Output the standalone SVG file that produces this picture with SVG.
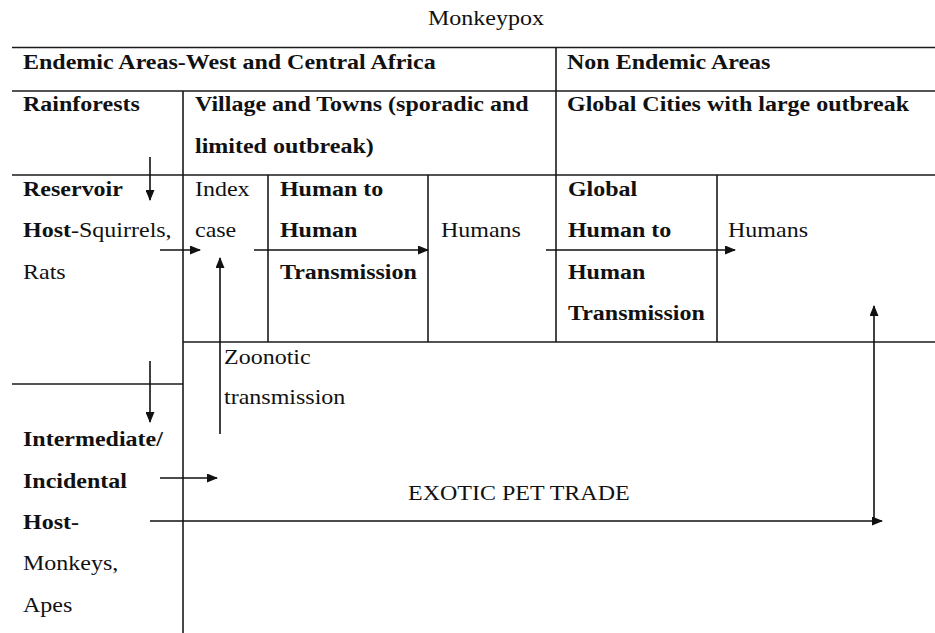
<svg xmlns="http://www.w3.org/2000/svg" width="935" height="633" viewBox="0 0 935 633">
<style>
text { font-family: "Liberation Serif", "Times New Roman", serif; font-size: 20px; fill: #111; }
.b { font-weight: bold; }
.grid line { stroke: #1a1a1a; stroke-width: 1.6; }
.conn line { stroke: #111; stroke-width: 1.6; marker-end: url(#ah); }
.conn line.plain { marker-end: none; }
</style>
<defs>
<marker id="ah" markerUnits="userSpaceOnUse" markerWidth="11" markerHeight="9" refX="10" refY="4.5" orient="auto">
<path d="M0,0 L11,4.5 L0,9 z" fill="#111"/>
</marker>
</defs>
<rect width="935" height="633" fill="#fff"/>
<g id="grid" class="grid">
<line x1="12" y1="47.5" x2="935" y2="47.5"/>
<line x1="12" y1="91" x2="935" y2="91"/>
<line x1="12" y1="175" x2="935" y2="175"/>
<line x1="183" y1="342" x2="935" y2="342"/>
<line x1="12" y1="384" x2="183" y2="384"/>
<line x1="556" y1="47.5" x2="556" y2="342"/>
<line x1="183" y1="91" x2="183" y2="633"/>
<line x1="268" y1="175" x2="268" y2="342"/>
<line x1="428" y1="175" x2="428" y2="342"/>
<line x1="717" y1="175" x2="717" y2="342"/>
</g>
<g id="title" transform="scale(1.2 1)"><text x="356.7" y="25">Monkeypox</text></g>
<g id="endemic" transform="scale(1.2 1)"><text class="b" x="19.2" y="69.5">Endemic Areas-West and Central Africa</text></g>
<g id="nonendemic" transform="scale(1.2 1)"><text class="b" x="472.5" y="69.5">Non Endemic Areas</text></g>
<g id="rainforests" transform="scale(1.2 1)"><text class="b" x="19.2" y="111.5">Rainforests</text></g>
<g id="villages" transform="scale(1.2 1)"><text class="b" x="162.5" y="111.5">Village and Towns (sporadic and</text><text class="b" x="162.5" y="153">limited outbreak)</text></g>
<g id="globalcities" transform="scale(1.2 1)"><text class="b" x="472.5" y="111.5">Global Cities with large outbreak</text></g>
<g id="reservoir" transform="scale(1.2 1)"><text class="b" x="19.2" y="196">Reservoir</text><text x="19.2" y="237.5"><tspan class="b">Host</tspan>-Squirrels,</text><text x="19.2" y="279">Rats</text></g>
<g id="indexcase" transform="scale(1.2 1)"><text x="162.5" y="196">Index</text><text x="162.5" y="237.5">case</text></g>
<g id="h2h" transform="scale(1.2 1)"><text class="b" x="233.3" y="196">Human to</text><text class="b" x="233.3" y="237.5">Human</text><text class="b" x="233.3" y="279">Transmission</text></g>
<g id="humans1" transform="scale(1.2 1)"><text x="367.5" y="237.5">Humans</text></g>
<g id="globalh2h" transform="scale(1.2 1)"><text class="b" x="473.3" y="196">Global</text><text class="b" x="473.3" y="237.5">Human to</text><text class="b" x="473.3" y="279">Human</text><text class="b" x="473.3" y="320">Transmission</text></g>
<g id="humans2" transform="scale(1.2 1)"><text x="606.7" y="237.5">Humans</text></g>
<g id="zoonotic" transform="scale(1.2 1)"><text x="186.7" y="364">Zoonotic</text><text x="186.7" y="404.5">transmission</text></g>
<g id="intermediate" transform="scale(1.2 1)"><text class="b" x="19.2" y="446.5">Intermediate/</text><text class="b" x="19.2" y="488">Incidental</text><text class="b" x="19.2" y="529">Host-</text><text x="19.2" y="570.5">Monkeys,</text><text x="19.2" y="612">Apes</text></g>
<g id="exotic" transform="scale(1.2 1)"><text x="340" y="500.5">EXOTIC PET TRADE</text></g>
<g id="connectors" class="conn">
<line x1="150" y1="157" x2="150" y2="200"/>
<line x1="160" y1="250" x2="200" y2="250"/>
<line x1="220" y1="434" x2="220" y2="258"/>
<line x1="254" y1="250" x2="428" y2="250"/>
<line x1="546" y1="250" x2="735" y2="250"/>
<line x1="150" y1="361" x2="150" y2="422"/>
<line x1="160" y1="478" x2="217" y2="478"/>
<line x1="150" y1="521" x2="882" y2="521"/>
<line x1="874" y1="519" x2="874" y2="306"/>
</g>
</svg>
